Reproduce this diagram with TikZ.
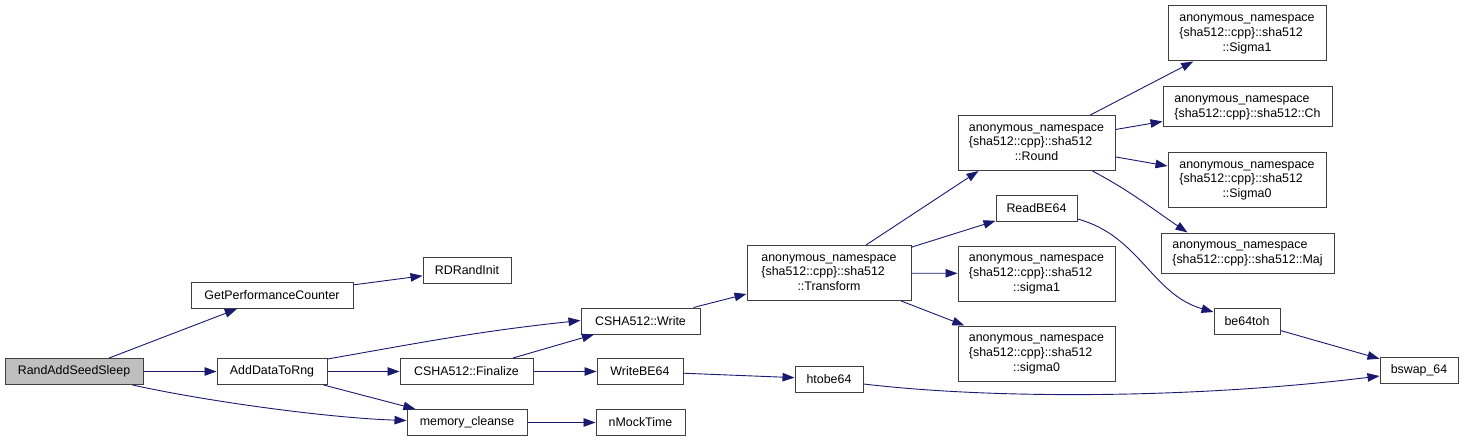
\documentclass[tikz,border=0pt]{standalone}
\usepackage{fontspec}
\setmainfont{Liberation Sans}
\usetikzlibrary{arrows.meta,calc}
\definecolor{edgecol}{HTML}{191970}
\definecolor{boxcol}{HTML}{404040}
\definecolor{rootfill}{HTML}{BFBFBF}
\begin{document}
\begin{tikzpicture}[x=1pt,y=-1pt,
  fn/.style={draw=boxcol,line width=1pt,fill=white,rectangle,inner sep=0pt,
    minimum height=26pt,font=\fontsize{12.4}{14.7}\selectfont,anchor=center},
  fn3/.style={fn,minimum height=55pt},
  fn2/.style={fn,minimum height=40pt},
  root/.style={fn,fill=rootfill},
  call/.style={draw=edgecol,line width=0.9pt,-{Triangle[length=12pt,width=8.5pt]},fill=none}]
\useasboundingbox (0,0) rectangle (1483,441);

\node[root,minimum width=138pt] (r) at (74,371.5) {RandAddSeedSleep};
\node[fn,minimum width=162pt] (gpc) at (272,295.5) {GetPerformanceCounter};
\node[fn,minimum width=88pt] (rdr) at (467,270) {RDRandInit};
\node[fn,minimum width=110pt] (adr) at (272,371.5) {AddDataToRng};
\node[fn,minimum width=120pt] (mc) at (467,422.5) {memory\_cleanse};
\node[fn,minimum width=133pt] (fin) at (466.5,371.5) {CSHA512::Finalize};
\node[fn,minimum width=119pt] (wr) at (640.5,321) {CSHA512::Write};
\node[fn,minimum width=86pt] (wbe) at (640,371.5) {WriteBE64};
\node[fn,minimum width=89pt] (nmt) at (640.5,422.5) {nMockTime};
\node[fn,minimum width=68pt] (htobe) at (829,379) {htobe64};
\node[fn3,minimum width=164pt] (tr) at (829,273)
  {\begin{tabular}{@{}l@{}}anonymous\_namespace\\\{sha512::cpp\}::sha512\\\multicolumn{1}{@{}c@{}}{::Transform}\end{tabular}};
\node[fn3,minimum width=157pt] (rnd) at (1036.5,143)
  {\begin{tabular}{@{}l@{}}anonymous\_namespace\\\{sha512::cpp\}::sha512\\\multicolumn{1}{@{}c@{}}{::Round}\end{tabular}};
\node[fn,minimum width=81pt] (rbe) at (1036.5,208) {ReadBE64};
\node[fn3,minimum width=157pt] (s1) at (1036.5,273.5)
  {\begin{tabular}{@{}l@{}}anonymous\_namespace\\\{sha512::cpp\}::sha512\\\multicolumn{1}{@{}c@{}}{::sigma1}\end{tabular}};
\node[fn3,minimum width=157pt] (s0) at (1036.5,353.5)
  {\begin{tabular}{@{}l@{}}anonymous\_namespace\\\{sha512::cpp\}::sha512\\\multicolumn{1}{@{}c@{}}{::sigma0}\end{tabular}};
\node[fn3,minimum width=158pt] (S1) at (1247,33.5)
  {\begin{tabular}{@{}l@{}}anonymous\_namespace\\\{sha512::cpp\}::sha512\\\multicolumn{1}{@{}c@{}}{::Sigma1}\end{tabular}};
\node[fn2,minimum width=169pt] (ch) at (1247.5,107)
  {\begin{tabular}{@{}l@{}}anonymous\_namespace\\\{sha512::cpp\}::sha512::Ch\end{tabular}};
\node[fn3,minimum width=158pt] (S0) at (1247,180)
  {\begin{tabular}{@{}l@{}}anonymous\_namespace\\\{sha512::cpp\}::sha512\\\multicolumn{1}{@{}c@{}}{::Sigma0}\end{tabular}};
\node[fn2,minimum width=173pt] (maj) at (1247.5,253)
  {\begin{tabular}{@{}l@{}}anonymous\_namespace\\\{sha512::cpp\}::sha512::Maj\end{tabular}};
\node[fn,minimum width=66pt] (be64) at (1247,321) {be64toh};
\node[fn,minimum width=78pt] (bswap) at (1419,370) {bswap\_64};

% edges
\draw[call] (r) -- (gpc);
\draw[call] (r) -- (adr);
\draw[call] (r.-13) .. controls (210,402) and (330,418) .. ($(mc.west)+(0,-2)$);
\draw[call] (gpc) -- (rdr);
\draw[call] ($(adr.north east)+(0,1)$) to[out=10,in=186] ($(wr.west)+(0,-0.5)$);
\draw[call] (adr) -- (fin);
\draw[call] (adr) -- (mc);
\draw[call] (fin) -- (wr);
\draw[call] (fin) -- (wbe);
\draw[call] (mc) -- (nmt);
\draw[call] (wr) -- (tr);
\draw[call] (wbe) -- (htobe);
\draw[call] ($(htobe.east)+(0,5)$) .. controls (1000,400) and (1200,398) .. ($(bswap.west)+(0,6)$);
\draw[call] ($(tr.north)+(37,0)$) -- ($(rnd.south)+(-58,0)$);
\draw[call] (tr) -- (rbe);
\draw[call] (tr) -- (s1);
\draw[call] (tr) -- (s0);
\draw[call] (rnd) -- (S1);
\draw[call] (rnd) -- (ch);
\draw[call] (rnd) -- (S0);
\draw[call] ($(rnd.south)+(56,0)$) to[out=-28,in=146] ($(maj.north)+(-60,0)$);
\draw[call] (rbe.-15) to[out=-15,in=164] (be64.165);
\draw[call] (be64) -- (bswap);
\end{tikzpicture}
\end{document}
